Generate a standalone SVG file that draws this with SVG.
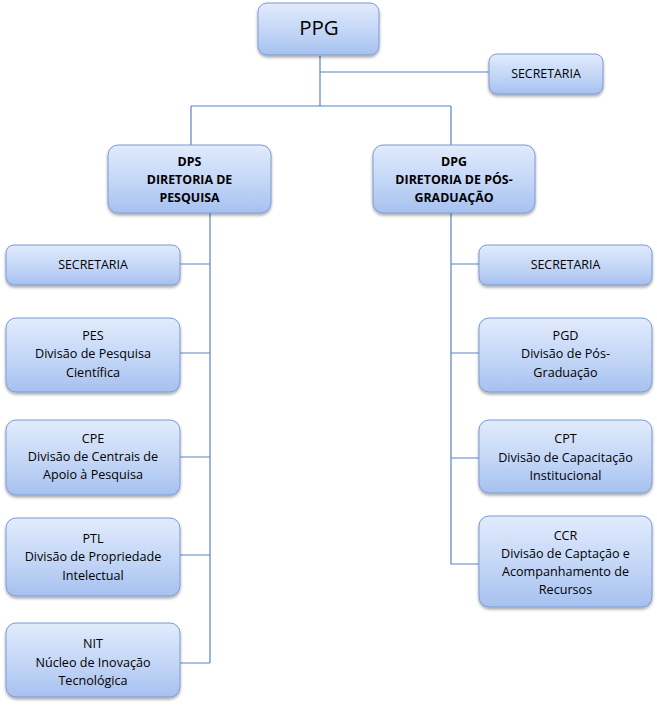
<svg xmlns="http://www.w3.org/2000/svg" width="657" height="709" viewBox="0 0 657 709">
<defs>
<linearGradient id="g" x1="0" y1="0" x2="0" y2="1">
<stop offset="0" stop-color="#e1ebfc"/>
<stop offset="0.5" stop-color="#c6d8f7"/>
<stop offset="1" stop-color="#a6c1ef"/>
</linearGradient>
<filter id="sh" x="-10%" y="-10%" width="120%" height="130%">
<feGaussianBlur in="SourceAlpha" stdDeviation="1.5"/>
<feOffset dx="0" dy="2" result="b"/>
<feComponentTransfer><feFuncA type="linear" slope="0.35"/></feComponentTransfer>
<feMerge><feMergeNode/><feMergeNode in="SourceGraphic"/></feMerge>
</filter>
</defs>
<style>
.box{fill:url(#g);stroke:#7b9bd3;stroke-width:1;filter:url(#sh)}
.t{font-family:"Open Sans","Liberation Sans",sans-serif;font-size:12.6px;fill:#000;text-anchor:middle}
.b{font-weight:bold;font-size:12.4px}
.s{font-size:12.4px}
.c{fill:none;stroke:#5a84c4;stroke-width:1.2}
</style>
<g id="connectors">
<path class="c" d="M320,56 V106 M320,72 H489 M191,106 H451 M191,106 V145 M451,106 V145"/>
<path class="c" d="M210,213 V663 M180,264 H210 M180,353 H210 M180,457 H210 M180,555 H210 M180,663 H210"/>
<path class="c" d="M451,213 V564 H479 M451,264 H479 M451,353 H479 M451,458 H479"/>
</g>
<g id="ppg"><rect class="box" x="258" y="3" width="121" height="52" rx="9"/><text class="t" x="319" y="35" style="font-size:20.5px">PPG</text></g>
<g id="sec-top"><rect class="box" x="489" y="54" width="114" height="40" rx="8"/><text class="t s" x="546" y="78">SECRETARIA</text></g>
<g id="dps"><rect class="box" x="108" y="145" width="163" height="68" rx="10"/>
<text class="t b" x="189.5" y="166">DPS</text><text class="t b" x="189.5" y="184">DIRETORIA DE</text><text class="t b" x="189.5" y="202">PESQUISA</text></g>
<g id="dpg"><rect class="box" x="373" y="145" width="162" height="68" rx="10"/>
<text class="t b" x="454" y="166">DPG</text><text class="t b" x="454" y="184">DIRETORIA DE PÓS-</text><text class="t b" x="454" y="202">GRADUAÇÃO</text></g>
<g id="sec-left"><rect class="box" x="6" y="245" width="174" height="40" rx="8"/><text class="t s" x="93" y="269">SECRETARIA</text></g>
<g id="pes"><rect class="box" x="6" y="318" width="174" height="74" rx="10"/>
<text class="t" x="93" y="340">PES</text><text class="t" x="93" y="358">Divisão de Pesquisa</text><text class="t" x="93" y="377">Científica</text></g>
<g id="cpe"><rect class="box" x="6" y="420" width="174" height="75" rx="10"/>
<text class="t" x="93" y="443">CPE</text><text class="t" x="93" y="461">Divisão de Centrais de</text><text class="t" x="93" y="479">Apoio à Pesquisa</text></g>
<g id="ptl"><rect class="box" x="6" y="518" width="174" height="78" rx="10"/>
<text class="t" x="93" y="543">PTL</text><text class="t" x="93" y="561">Divisão de Propriedade</text><text class="t" x="93" y="580">Intelectual</text></g>
<g id="nit"><rect class="box" x="6" y="623" width="174" height="74" rx="10"/>
<text class="t" x="93" y="648">NIT</text><text class="t" x="93" y="667">Núcleo de Inovação</text><text class="t" x="93" y="685">Tecnológica</text></g>
<g id="sec-right"><rect class="box" x="479" y="245" width="173" height="40" rx="8"/><text class="t s" x="565.5" y="269">SECRETARIA</text></g>
<g id="pgd"><rect class="box" x="479" y="318" width="173" height="74" rx="10"/>
<text class="t" x="565.5" y="340">PGD</text><text class="t" x="565.5" y="358">Divisão de Pós-</text><text class="t" x="565.5" y="377">Graduação</text></g>
<g id="cpt"><rect class="box" x="479" y="420" width="173" height="73" rx="10"/>
<text class="t" x="565.5" y="443">CPT</text><text class="t" x="565.5" y="462">Divisão de Capacitação</text><text class="t" x="565.5" y="480">Institucional</text></g>
<g id="ccr"><rect class="box" x="479" y="516" width="173" height="91" rx="10"/>
<text class="t" x="565.5" y="540">CCR</text><text class="t" x="565.5" y="558">Divisão de Captação e</text><text class="t" x="565.5" y="576">Acompanhamento de</text><text class="t" x="565.5" y="594">Recursos</text></g>
</svg>
